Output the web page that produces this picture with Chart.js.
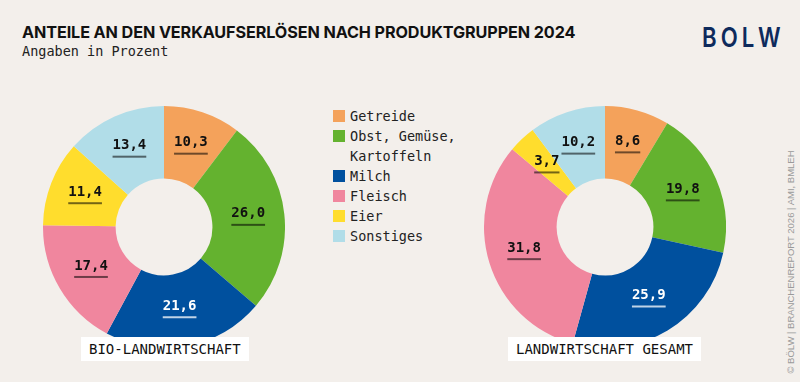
<!DOCTYPE html>
<html>
<head>
<meta charset="utf-8">
<script src="https://cdn.jsdelivr.net/npm/chart.js@4/dist/chart.umd.min.js"></script>
<style>
  html, body { margin:0; padding:0; }
  body { width:800px; height:382px; background:#F3EFEB; position:relative; overflow:hidden; font-family:"DejaVu Sans Mono", monospace; }
  #title { position:absolute; left:22px; top:22px; font-family:Inter, "Open Sans", sans-serif; font-weight:700; font-size:16.2px; color:#111; white-space:nowrap; letter-spacing:-0.1px; }
  #subtitle { position:absolute; left:22px; top:43px; font-family:"DejaVu Sans Mono", monospace; font-size:13.5px; color:#222; white-space:nowrap; }
  #logo { position:absolute; left:702px; top:23px; font-family:Inter, sans-serif; font-weight:600; font-size:27px; letter-spacing:5px; color:#0E2A5C; line-height:30px; transform:scaleX(0.82); transform-origin:left top; }
  #side { position:absolute; left:790px; top:262px; transform:translate(-50%,-50%) rotate(-90deg); font-family:"Liberation Sans", Arial, sans-serif; font-size:9.5px; color:#9a9a9a; white-space:nowrap; }
  .cv { position:absolute; }
  #c1 { left:43px; top:106px; }
  #c2 { left:484px; top:106px; }
  #legend { position:absolute; left:333px; top:106px; font-size:13.5px; color:#222; }
  .li { display:flex; align-items:flex-start; line-height:20px; }
  .sw { width:12px; height:12px; margin-top:4px; margin-right:5px; flex:none; }
  .lt { width:115px; }
  .box { position:absolute; background:#fff; font-family:"DejaVu Sans Mono", monospace; font-size:14px; color:#111; height:24px; line-height:24px; padding:0 8px; white-space:nowrap; }
  #b1 { left:81px; top:337px; }
  #b2 { left:508px; top:337px; }
</style>
</head>
<body>
<div id="title">ANTEILE AN DEN VERKAUFSERLÖSEN NACH PRODUKTGRUPPEN 2024</div>
<div id="subtitle">Angaben in Prozent</div>
<div id="logo">BOLW</div>
<div id="side">© BÖLW | BRANCHENREPORT 2026 | AMI, BMLEH</div>
<canvas id="c1" class="cv" width="242" height="242"></canvas>
<canvas id="c2" class="cv" width="242" height="242"></canvas>
<div id="legend"></div>
<div id="b1" class="box"></div>
<div id="b2" class="box"></div>
<script>
const categories = ['Getreide', 'Obst, Gemüse, Kartoffeln', 'Milch', 'Fleisch', 'Eier', 'Sonstiges'];
const bioValues = [10.3, 26.0, 21.6, 17.4, 11.4, 13.4];
const gesamtValues = [8.6, 19.8, 25.9, 31.8, 3.7, 10.2];
const chartTitles = ['BIO-LANDWIRTSCHAFT', 'LANDWIRTSCHAFT GESAMT'];
const colors = ['#F4A25B', '#64B22F', '#00509E', '#F0869E', '#FFDD2D', '#B1DDE8'];
const labelTextColors = ['#111', '#111', '#fff', '#111', '#111', '#111'];
const underlineColors = ['rgba(0,0,0,0.55)', 'rgba(0,0,0,0.55)', 'rgba(255,255,255,0.75)', 'rgba(0,0,0,0.55)', 'rgba(0,0,0,0.55)', 'rgba(0,0,0,0.55)'];

// legend
const legend = document.getElementById('legend');
categories.forEach((c, i) => {
  const row = document.createElement('div');
  row.className = 'li';
  const sw = document.createElement('div');
  sw.className = 'sw';
  sw.style.background = colors[i];
  const t = document.createElement('div');
  t.className = 'lt';
  t.textContent = c;
  row.appendChild(sw); row.appendChild(t);
  legend.appendChild(row);
});
document.getElementById('b1').textContent = chartTitles[0];
document.getElementById('b2').textContent = chartTitles[1];

const valueLabels = {
  id: 'valueLabels',
  afterDatasetsDraw(chart) {
    const ctx = chart.ctx;
    const meta = chart.getDatasetMeta(0);
    const data = chart.data.datasets[0].data;
    ctx.save();
    ctx.font = 'bold 14px "DejaVu Sans Mono", monospace';
    ctx.textAlign = 'center';
    ctx.textBaseline = 'middle';
    meta.data.forEach((arc, i) => {
      const p = arc.getCenterPoint();
      const txt = data[i].toFixed(1).replace('.', ',');
      const w = ctx.measureText(txt).width;
      ctx.fillStyle = labelTextColors[i];
      ctx.fillText(txt, p.x, p.y - 4);
      ctx.fillStyle = underlineColors[i];
      ctx.fillRect(p.x - w / 2, p.y + 6, w, 2);
    });
    ctx.restore();
  }
};

function makeChart(id, values) {
  return new Chart(document.getElementById(id), {
    type: 'doughnut',
    data: {
      labels: categories,
      datasets: [{ data: values, backgroundColor: colors, borderWidth: 0 }]
    },
    options: {
      responsive: false,
      animation: false,
      cutout: '40%',
      layout: { padding: 0 },
      plugins: { legend: { display: false }, tooltip: { enabled: false } }
    },
    plugins: [valueLabels]
  });
}
makeChart('c1', bioValues);
makeChart('c2', gesamtValues);
</script>
</body>
</html>
